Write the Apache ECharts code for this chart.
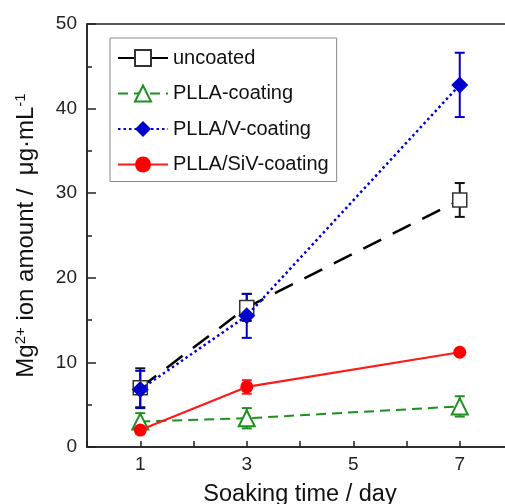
<!DOCTYPE html>
<html>
<head>
<meta charset="utf-8">
<script src="https://cdn.jsdelivr.net/npm/echarts@6/dist/echarts.min.js"></script>
<style>
  html, body { margin: 0; padding: 0; background: #fff; }
  #chart { width: 505px; height: 504px; }
</style>
</head>
<body>
<div id="chart"></div>
<script>
// soaking days
var days = [1, 3, 7];
var xTickLabels = ["1", "3", "5", "7"];
var yTickLabels = ["0", "10", "20", "30", "40", "50"];

// Mg2+ release, ug/mL
var uncoated = [7.0, 16.5, 29.2];
var uncoatedErr = [2.3, 1.6, 2.0];
var plla = [3.0, 3.4, 4.8];
var pllaErr = [1.0, 1.2, 1.2];
var pllaV = [6.8, 15.5, 42.8];
var pllaVErr = [2.2, 2.6, 3.8];
var pllaSiV = [2.0, 7.1, 11.2];
var pllaSiVErr = [0.4, 0.8, 0.3];

var seriesNames = ["uncoated", "PLLA-coating", "PLLA/V-coating", "PLLA/SiV-coating"];

var font = "Liberation Sans, Arial, sans-serif";

function pts(vals) {
  return days.map(function (d, i) { return [d, vals[i]]; });
}
function errPts(vals, errs) {
  return days.map(function (d, i) { return [d, vals[i], errs[i]]; });
}

function errorBars(vals, errs, color) {
  return {
    type: "custom",
    z: 1,
    silent: true,
    data: errPts(vals, errs),
    encode: {x: 0, y: 1},
    renderItem: function (params, api) {
      var x = api.value(0), y = api.value(1), e = api.value(2);
      var top = api.coord([x, y + e]);
      var bot = api.coord([x, y - e]);
      var w = 5;
      var st = {stroke: color, lineWidth: 2};
      return {
        type: "group",
        children: [
          {type: "line", shape: {x1: top[0], y1: top[1], x2: bot[0], y2: bot[1]}, style: st},
          {type: "line", shape: {x1: top[0] - w, y1: top[1], x2: top[0] + w, y2: top[1]}, style: st},
          {type: "line", shape: {x1: bot[0] - w, y1: bot[1], x2: bot[0] + w, y2: bot[1]}, style: st},
        ],
      };
    },
  };
}

var myChart = echarts.init(document.getElementById("chart"));
myChart.setOption({
  animation: false,
  textStyle: {fontFamily: font},
  grid: {
    left: 87,
    right: -8,
    top: 24,
    bottom: 57,
    outerBoundsMode: "none",
    show: true,
    borderColor: "#222",
    borderWidth: 1.5,
  },
  legend: {
    orient: "vertical",
    left: 110,
    top: 38,
    padding: [10, 8, 7, 7],
    borderColor: "#888",
    borderWidth: 1,
    itemWidth: 50,
    itemHeight: 20,
    itemGap: 15.5,
    textStyle: {fontSize: 20, color: "#111", fontFamily: font},
    data: seriesNames,
  },
  xAxis: {
    type: "value",
    min: 0,
    max: 8,
    interval: 1,
    name: "Soaking time / day",
    nameLocation: "middle",
    nameGap: 36,
    nameTextStyle: {fontSize: 23.5, color: "#111", fontFamily: font},
    axisLine: {lineStyle: {color: "#222", width: 1.5}},
    axisTick: {inside: true, length: 6, lineStyle: {color: "#222", width: 1.5}},
    axisLabel: {
      fontSize: 19,
      color: "#222",
      margin: 8,
      formatter: function (v) {
        return xTickLabels.indexOf(String(v)) >= 0 ? String(v) : "";
      },
    },
    splitLine: {show: false},
  },
  yAxis: {
    type: "value",
    min: 0,
    max: 50,
    interval: 10,
    name: "Mg{sup|2+} ion amount /  μg·mL{sup|-1}",
    nameLocation: "middle",
    nameGap: 48,
    nameTextStyle: {
      fontSize: 24,
      color: "#111",
      fontFamily: font,
      rich: {sup: {fontSize: 15, verticalAlign: "top", padding: [0, 0, 11, 0], fontFamily: font, color: "#111"}},
    },
    axisLine: {lineStyle: {color: "#222", width: 1.5}},
    axisTick: {inside: true, length: 9, lineStyle: {color: "#222", width: 1.5}},
    minorTick: {show: true, splitNumber: 2, length: 5, lineStyle: {color: "#222", width: 1.5}},
    axisLabel: {
      fontSize: 19,
      color: "#222",
      margin: 10,
      formatter: function (v) {
        return yTickLabels.indexOf(String(v)) >= 0 ? String(v) : "";
      },
    },
    splitLine: {show: false},
  },
  series: [
    errorBars(uncoated, uncoatedErr, "#111"),
    errorBars(plla, pllaErr, "#1f8f1f"),
    errorBars(pllaV, pllaVErr, "#0000cc"),
    errorBars(pllaSiV, pllaSiVErr, "#ff1a1a"),
    {
      name: seriesNames[0],
      type: "line",
      z: 2,
      data: pts(uncoated),
      symbol: "rect",
      symbolSize: 14,
      lineStyle: {color: "#000", width: 2.5, type: [20, 13]},
      itemStyle: {color: "#fff", borderColor: "#333", borderWidth: 1.5},
    },
    {
      name: seriesNames[1],
      type: "line",
      z: 2,
      data: pts(plla),
      symbol: "triangle",
      symbolSize: 16,
      lineStyle: {color: "#1f8f1f", width: 2, type: [10, 6]},
      itemStyle: {color: "#fff", borderColor: "#1f8f1f", borderWidth: 2},
    },
    {
      name: seriesNames[2],
      type: "line",
      z: 3,
      data: pts(pllaV),
      symbol: "diamond",
      symbolSize: 17,
      lineStyle: {color: "#0000dd", width: 2.5, type: [2.5, 3]},
      itemStyle: {color: "#0000cc"},
    },
    {
      name: seriesNames[3],
      type: "line",
      z: 3,
      data: pts(pllaSiV),
      symbol: "circle",
      symbolSize: 13,
      lineStyle: {color: "#ff1a1a", width: 2.2},
      itemStyle: {color: "#ff0000"},
    },
  ],
});
</script>
</body>
</html>
